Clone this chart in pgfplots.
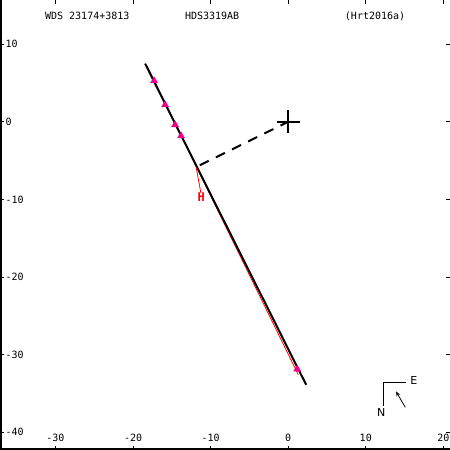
\documentclass[border=0pt]{standalone}
\usepackage{fontspec}
\setmainfont{DejaVu Sans Mono}
\newfontfamily\sansf{DejaVu Sans}
\usepackage{pgfplots}
\usetikzlibrary{arrows.meta}
\pgfplotsset{compat=1.18}
\begin{document}
\begin{tikzpicture}
\begin{axis}[
 scale only axis, width=450pt, height=450pt,
 xmin=-37.15, xmax=20.86, ymin=-42.3, ymax=15.7,
 axis line style={draw=none},
 xtick={-30,-20,...,20}, ytick={-40,-30,...,10},
 tick align=inside, xtick pos=both, ytick pos=both,
 major tick length=4pt, tick style={black, line width=0.8pt},
 xticklabel pos=lower, yticklabel pos=left,
 x tick label style={anchor=south, yshift=4.5pt},
 y tick label style={anchor=west, xshift=2pt},
 tick label style={font=\fontsize{10}{12}\selectfont},
 /pgf/number format/assume math mode=true,
 clip=false,
]
\draw[black, line width=1.5pt] ([xshift=0.9pt]rel axis cs:0,1) -- ([xshift=0.9pt,yshift=0.9pt]rel axis cs:0,0) -- ([yshift=0.9pt]rel axis cs:1,0);
\coordinate (sw) at (rel axis cs:0,0);
\coordinate (ne) at (rel axis cs:1,1);
% red orbit
\addplot[red, line width=0.8pt] coordinates {(-18.2,7.2) (1.3,-32.6)};
% black orbit
\addplot[black, line width=2pt] coordinates {(-18.45,7.5) (2.32,-33.9)};
% dashed line to primary
\addplot[black, line width=2pt, dash pattern=on 10pt off 8pt] coordinates {(-11.4,-5.6) (0,0)};
% primary cross
\addplot[black, line width=2pt, mark=+, mark size=11.5pt, only marks] coordinates {(0,0)};
% H point with residual line
\addplot[red, line width=0.8pt] coordinates {(-11.87,-5.81) (-11.25,-9.2)};
\addplot[red, only marks, mark=text, text mark={\textcolor{red}{\fontsize{12}{12}\selectfont\bfseries H}}] coordinates {(-11.2,-9.75)};
% magenta observations
\addplot[magenta, only marks, mark=triangle*, mark size=4pt] coordinates {(-17.29,5.29) (-15.87,2.19) (-14.58,-0.39) (-13.81,-1.81) (1.16,-31.87)};
% compass
\addplot[black, line width=0.8pt] coordinates {(15.23,-33.55) (12.26,-33.55) (12.26,-36.65)};
\addplot[black, line width=0.8pt, -{Stealth[length=5pt,width=4pt]}] coordinates {(15.1,-36.8) (13.9,-34.75)};
\node[font=\sansf\fontsize{11}{12}\selectfont] at (axis cs:16.2,-33.4) {E};
\node[font=\sansf\fontsize{11}{12}\selectfont] at (axis cs:12.0,-37.5) {N};
% titles
\node[font=\fontsize{10}{12}\selectfont] at (axis cs:-25.9,13.64) {WDS 23174+3813};
\node[font=\fontsize{10}{12}\selectfont] at (axis cs:-9.8,13.64) {HDS3319AB};
\node[font=\fontsize{10}{12}\selectfont] at (axis cs:11.2,13.64) {(Hrt2016a)};
\end{axis}
\pgfresetboundingbox
\useasboundingbox (sw) rectangle (ne);
\end{tikzpicture}
\end{document}
